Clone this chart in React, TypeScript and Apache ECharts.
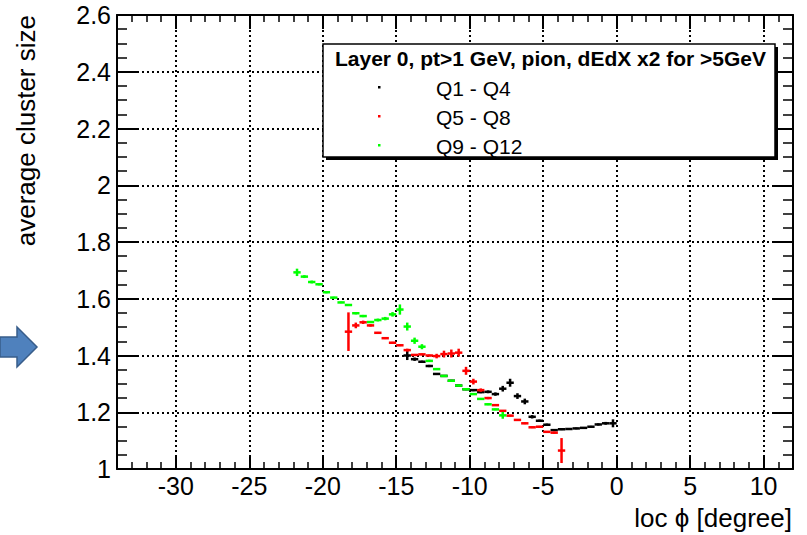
import { useEffect, useRef } from "react";
import * as echarts from "echarts";

const FONT = "'Liberation Sans', Arial, 'DejaVu Sans', sans-serif";

// axis ranges / titles
const X_MIN = -34;
const X_MAX = 12;
const Y_MIN = 1;
const Y_MAX = 2.6;
const Y_STEP = 0.2;
const X_TITLE = "loc \u03d5 [degree]";
const Y_TITLE = "average cluster size";
const LEGEND_TITLE = "Layer 0, pt>1 GeV, pion, dEdX x2 for >5GeV";
const SERIES_NAMES = ["Q1 - Q4", "Q5 - Q8", "Q9 - Q12"];
const SERIES_COLORS = ["#000000", "#ff0000", "#00ff00"];

// half bin width (x error)
const BIN_HALF = 0.25;

// Q1 - Q4 (black)
const blackX = [-14.25, -13.75, -13.25, -12.75, -12.25, -11.75, -11.25, -10.75, -10.25, -9.75, -9.25, -8.75, -8.25, -7.75, -7.25, -6.75, -6.25, -5.75, -5.25, -4.75, -4.25, -3.75, -3.25, -2.75, -2.25, -1.75, -1.25, -0.75, -0.25];
const blackY = [1.400, 1.387, 1.378, 1.363, 1.335, 1.328, 1.311, 1.294, 1.281, 1.278, 1.271, 1.272, 1.264, 1.283, 1.304, 1.257, 1.238, 1.184, 1.170, 1.156, 1.137, 1.140, 1.141, 1.143, 1.145, 1.149, 1.157, 1.161, 1.161];
const blackErr = [0.016, 0.006, 0.004, 0.004, 0.003, 0.003, 0.003, 0.003, 0.003, 0.004, 0.004, 0.005, 0.006, 0.010, 0.014, 0.010, 0.010, 0.006, 0.004, 0.004, 0.003, 0.003, 0.003, 0.003, 0.003, 0.003, 0.004, 0.005, 0.014];

// Q5 - Q8 (red)
const redX = [-18.25, -17.75, -17.25, -16.75, -16.25, -15.75, -15.25, -14.75, -14.25, -13.75, -13.25, -12.75, -12.25, -11.75, -11.25, -10.75, -10.25, -9.75, -9.25, -8.75, -8.25, -7.75, -7.25, -6.75, -6.25, -5.75, -5.25, -4.75, -4.25, -3.75];
const redY = [1.484, 1.506, 1.517, 1.506, 1.480, 1.461, 1.445, 1.436, 1.419, 1.402, 1.404, 1.400, 1.398, 1.405, 1.407, 1.410, 1.346, 1.308, 1.278, 1.250, 1.225, 1.205, 1.188, 1.173, 1.161, 1.147, 1.149, 1.131, 1.128, 1.065];
const redErr = [0.068, 0.010, 0.006, 0.004, 0.003, 0.003, 0.003, 0.003, 0.005, 0.003, 0.003, 0.003, 0.008, 0.012, 0.014, 0.014, 0.014, 0.010, 0.006, 0.004, 0.003, 0.003, 0.003, 0.003, 0.003, 0.003, 0.003, 0.003, 0.004, 0.044];

// Q9 - Q12 (green)
const greenX = [-21.75, -21.25, -20.75, -20.25, -19.75, -19.25, -18.75, -18.25, -17.75, -17.25, -16.75, -16.25, -15.75, -15.25, -14.75, -14.25, -13.75, -13.25, -12.75, -12.25, -11.75, -11.25, -10.75, -10.25, -9.75, -9.25, -8.75, -8.25, -7.75];
const greenY = [1.693, 1.678, 1.659, 1.651, 1.623, 1.604, 1.587, 1.578, 1.549, 1.539, 1.518, 1.525, 1.530, 1.545, 1.562, 1.502, 1.452, 1.431, 1.381, 1.352, 1.328, 1.311, 1.294, 1.281, 1.264, 1.247, 1.228, 1.210, 1.189];
const greenErr = [0.013, 0.005, 0.005, 0.004, 0.004, 0.003, 0.003, 0.003, 0.004, 0.004, 0.003, 0.005, 0.006, 0.008, 0.018, 0.014, 0.011, 0.009, 0.004, 0.003, 0.003, 0.003, 0.003, 0.003, 0.003, 0.003, 0.003, 0.003, 0.012];

function buildData(xs: number[], ys: number[], es: number[]) {
  return xs.map((x, i) => [x, ys[i], BIN_HALF, es[i]]);
}

function errorSeries(name: string, color: string, data: number[][], z: number) {
  return {
    type: "custom",
    name,
    xAxisIndex: 0,
    yAxisIndex: 0,
    z,
    clip: false,
    dimensions: ["x", "y", "ex", "ey"],
    encode: { x: 0, y: 1 },
    data,
    renderItem: (_params: any, api: any) => {
      const x = api.value(0);
      const y = api.value(1);
      const ex = api.value(2);
      const ey = api.value(3);
      const l = api.coord([x - ex, y]);
      const r = api.coord([x + ex, y]);
      const b = api.coord([x, y - ey]);
      const t = api.coord([x, y + ey]);
      return {
        type: "group",
        children: [
          { type: "line", shape: { x1: l[0], y1: l[1], x2: r[0], y2: r[1] }, style: { stroke: color, lineWidth: 2.5 } },
          { type: "line", shape: { x1: b[0], y1: b[1], x2: t[0], y2: t[1] }, style: { stroke: color, lineWidth: 2.5 } },
        ],
      };
    },
  };
}

function xAxisCfg(position: "bottom" | "top", showLabels: boolean) {
  return {
    type: "value",
    position,
    min: X_MIN,
    max: X_MAX,
    splitNumber: 9,
    minInterval: 5,
    maxInterval: 5,
    axisLine: { show: true, onZero: false, lineStyle: { color: "#000", width: 2 } },
    axisTick: { show: true, inside: true, length: 14, lineStyle: { color: "#000", width: 2 } },
    minorTick: { show: true, splitNumber: 5, length: 7, lineStyle: { color: "#000", width: 1.5 } },
    axisLabel: {
      show: showLabels,
      color: "#000",
      fontSize: 25,
      fontFamily: FONT,
      margin: 4,
      showMinLabel: false,
      showMaxLabel: false,
    },
    splitLine: { show: showLabels, lineStyle: { type: [2, 3], color: "#000", width: 2 } },
    minorSplitLine: { show: false },
  };
}

function yAxisCfg(position: "left" | "right", showLabels: boolean) {
  return {
    type: "value",
    position,
    min: Y_MIN,
    max: Y_MAX,
    interval: Y_STEP,
    axisLine: { show: true, onZero: false, lineStyle: { color: "#000", width: 2 } },
    axisTick: { show: true, inside: true, length: 20, lineStyle: { color: "#000", width: 2 } },
    minorTick: { show: true, splitNumber: 4, length: 10, lineStyle: { color: "#000", width: 1.5 } },
    axisLabel: {
      show: showLabels,
      color: "#000",
      fontSize: 25,
      fontFamily: FONT,
      margin: 6,
    },
    splitLine: { show: showLabels, lineStyle: { type: [2, 3], color: "#000", width: 2 } },
  };
}

export default function App() {
  const ref = useRef<HTMLDivElement>(null);

  useEffect(() => {
    if (!ref.current) return;
    const chart = echarts.init(ref.current, undefined, { renderer: "svg" });

    const legendRows = [88, 117, 146];
    const legendGraphics: any[] = [
      { type: "rect", z: 100, shape: { x: 326, y: 47, width: 452, height: 113 }, style: { fill: "#000" } },
      { type: "rect", z: 101, shape: { x: 323, y: 44, width: 452, height: 113 }, style: { fill: "#fff", stroke: "#000", lineWidth: 1.5 } },
      {
        type: "text", z: 102, x: 335, y: 58,
        style: { text: LEGEND_TITLE, font: `bold 21px ${FONT}`, fill: "#000", align: "left", verticalAlign: "middle", textAlign: "left", textVerticalAlign: "middle" },
      },
    ];
    SERIES_NAMES.forEach((name, i) => {
      legendGraphics.push({
        type: "rect", z: 102,
        shape: { x: 378, y: legendRows[i] - 2, width: 2.5, height: 2.5 },
        style: { fill: SERIES_COLORS[i] },
      });
      legendGraphics.push({
        type: "text", z: 102, x: 436, y: legendRows[i],
        style: { text: name, font: `21px ${FONT}`, fill: "#000", align: "left", verticalAlign: "middle", textAlign: "left", textVerticalAlign: "middle" },
      });
    });

    chart.setOption({
      animation: false,
      backgroundColor: "#fff",
      grid: { left: 117, top: 15, right: 14, bottom: 66, containLabel: false },
      xAxis: [xAxisCfg("bottom", true), xAxisCfg("top", false)],
      yAxis: [yAxisCfg("left", true), yAxisCfg("right", false)],
      series: [
        errorSeries(SERIES_NAMES[0], SERIES_COLORS[0], buildData(blackX, blackY, blackErr), 3),
        errorSeries(SERIES_NAMES[1], SERIES_COLORS[1], buildData(redX, redY, redErr), 4),
        errorSeries(SERIES_NAMES[2], SERIES_COLORS[2], buildData(greenX, greenY, greenErr), 5),
      ],
      graphic: [
        {
          type: "polygon", z: 50,
          shape: { points: [[0, 337], [17, 337], [17, 327], [37, 347], [17, 367], [17, 357], [0, 357]] },
          style: { fill: "#4f81bd", stroke: "#385d8a", lineWidth: 1.5 },
        },
        {
          type: "text", z: 50, x: 26, y: 15, rotation: Math.PI / 2,
          style: { text: Y_TITLE, font: `26px ${FONT}`, fill: "#000", align: "right", verticalAlign: "middle", textAlign: "right", textVerticalAlign: "middle" },
        },
        {
          type: "text", z: 50, x: 792, y: 518,
          style: { text: X_TITLE, font: `26px ${FONT}`, fill: "#000", align: "right", verticalAlign: "middle", textAlign: "right", textVerticalAlign: "middle" },
        },
        ...legendGraphics,
      ],
    });

    return () => {
      chart.dispose();
    };
  }, []);

  return (
    <div
      ref={ref}
      style={{ position: "absolute", left: 0, top: 0, width: 807, height: 535 }}
    />
  );
}
